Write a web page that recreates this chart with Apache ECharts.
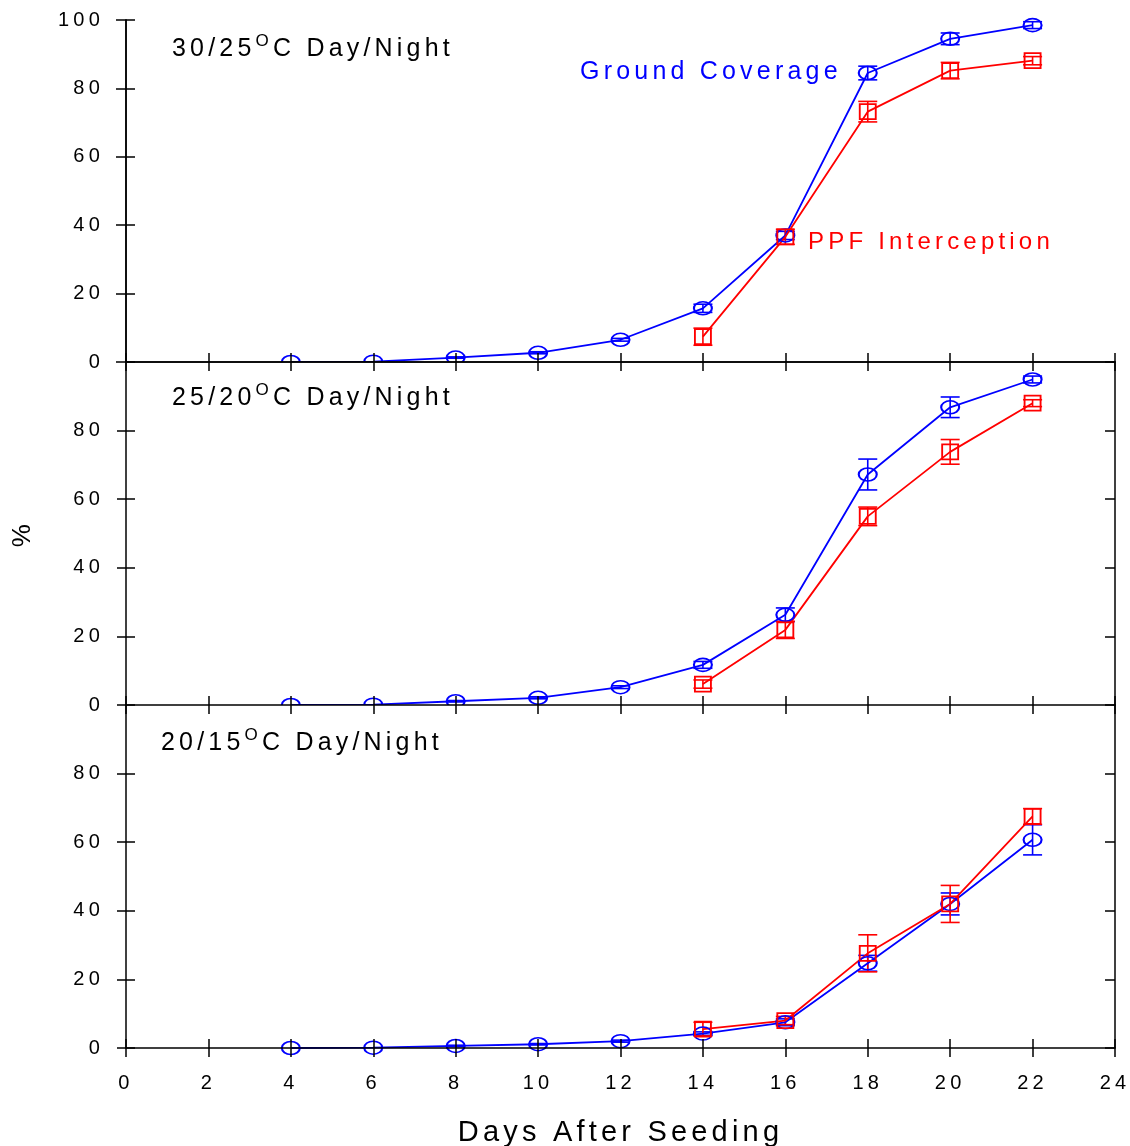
<!DOCTYPE html>
<html>
<head>
<meta charset="utf-8">
<title>Ground coverage and PPF interception</title>
<script src="https://cdn.jsdelivr.net/npm/echarts@6/dist/echarts.min.js"></script>
<style>
  html, body { margin: 0; padding: 0; background: #fff; }
  #chart { width: 1130px; height: 1146px; }
</style>
</head>
<body>
<div id="chart"></div>
<script>
// values, % vs days after seeding
const days = [4, 6, 8, 10, 12, 14, 16, 18, 20, 22];
const ppfDays = [14, 16, 18, 20, 22];

const gc3025 = [0, 0.1, 1.3, 2.7, 6.5, 15.7, 37, 84.5, 94.5, 98.5];
const gc3025Err = [0, 0, 0.2, 0.3, 0.4, 1.2, 1.2, 2, 1.7, 1];
const ppf3025 = [7.4, 36.6, 73.2, 85.2, 88.1];
const ppf3025Err = [2.5, 2.2, 3, 2.4, 1.2];

const gc2520 = [0, 0.1, 1.1, 2.1, 5.2, 11.7, 26.3, 67.2, 86.8, 94.9];
const gc2520Err = [0, 0, 0.2, 0.3, 0.4, 1, 2, 4.5, 3, 1];
const ppf2520 = [6.1, 21.9, 55, 73.8, 88];
const ppf2520Err = [1.2, 2.5, 2.7, 3.6, 1];

const gc2015 = [0, 0.1, 0.6, 1.1, 2.0, 4.2, 7.5, 24.7, 42, 60.7];
const gc2015Err = [0, 0, 0.2, 0.2, 0.3, 0.5, 1, 2.3, 3.2, 4.4];
const ppf2015 = [5.5, 8.0, 27.6, 42, 67.5];
const ppf2015Err = [2, 1.2, 5.4, 5.4, 2.3];

const panelTitles = ['30/25{sup|O}C Day/Night', '25/20{sup|O}C Day/Night', '20/15{sup|O}C Day/Night'];
const xMin = 0, xMax = 24, xStep = 2;
const yMin = 0, yMax = 100, yStep = 20;

// the original uses letter-spaced Arial, canvas can do that by itself
(function () {
    const proto = CanvasRenderingContext2D.prototype;
    ['measureText', 'fillText', 'strokeText'].forEach(function (fn) {
        const orig = proto[fn];
        proto[fn] = function () {
            if ('letterSpacing' in this) this.letterSpacing = '4.2px';
            return orig.apply(this, arguments);
        };
    });
})();

const BLUE = '#0000ff', RED = '#ff0000';
const FONT = 'Liberation Sans';

const panels = [
    { gc: gc3025, gcErr: gc3025Err, ppf: ppf3025, ppfErr: ppf3025Err, top: 20, height: 342, tLeft: 172, tTop: 31 },
    { gc: gc2520, gcErr: gc2520Err, ppf: ppf2520, ppfErr: ppf2520Err, top: 362, height: 343, tLeft: 172, tTop: 380 },
    { gc: gc2015, gcErr: gc2015Err, ppf: ppf2015, ppfErr: ppf2015Err, top: 705, height: 343, tLeft: 161, tTop: 725 }
];

const chart = echarts.init(document.getElementById('chart'));

const axisLineStyle = { color: '#000', width: 1.5 };
const labelStyle = { color: '#000', fontSize: 20, fontFamily: FONT };

function xAxisOf(i, extra) {
    return Object.assign({
        type: 'value', gridIndex: i, min: xMin, max: xMax, interval: xStep, z: 20,
        splitLine: { show: false },
        axisLine: { show: true, lineStyle: axisLineStyle },
        axisTick: { show: true, length: 9, lineStyle: axisLineStyle },
        axisLabel: { show: false }
    }, extra);
}
function yAxisOf(i, extra) {
    return Object.assign({
        type: 'value', gridIndex: i, min: yMin, max: yMax, interval: yStep, z: 20,
        splitLine: { show: false },
        axisLine: { show: true, lineStyle: axisLineStyle },
        axisTick: { show: true, length: 9, lineStyle: axisLineStyle },
        axisLabel: { show: false }
    }, extra);
}

function errBars(xi, yi, xs, ys, es, color, z) {
    const rows = [];
    xs.forEach(function (d, k) {
        if (es[k] > 0) rows.push([d, ys[k] - es[k], ys[k] + es[k]]);
    });
    return {
        type: 'custom', xAxisIndex: xi, yAxisIndex: yi, z: z, silent: true, animation: false,
        data: rows,
        renderItem: function (params, api) {
            const lo = api.coord([api.value(0), api.value(1)]);
            const hi = api.coord([api.value(0), api.value(2)]);
            const w = 9.5;
            const st = { stroke: color, lineWidth: 1.6 };
            return {
                type: 'group',
                children: [
                    { type: 'line', shape: { x1: lo[0], y1: lo[1], x2: hi[0], y2: hi[1] }, style: st },
                    { type: 'line', shape: { x1: lo[0] - w, y1: lo[1], x2: lo[0] + w, y2: lo[1] }, style: st },
                    { type: 'line', shape: { x1: hi[0] - w, y1: hi[1], x2: hi[0] + w, y2: hi[1] }, style: st }
                ]
            };
        }
    };
}

function lineOf(xi, yi, xs, ys, color, symbol, size, z) {
    return {
        type: 'line', xAxisIndex: xi, yAxisIndex: yi, z: z, animation: false,
        data: xs.map(function (d, k) { return [d, ys[k]]; }),
        symbol: symbol, symbolSize: size, showSymbol: true, showAllSymbol: true,
        itemStyle: { color: 'rgba(0,0,0,0)', borderColor: color, borderWidth: 1.8 },
        lineStyle: { color: color, width: 1.8 },
        emphasis: { disabled: true }
    };
}

const grids = [], xAxes = [], yAxes = [], series = [];
const titles = [];

panels.forEach(function (p, i) {
    // each panel has a white background laid over the panel above it
    grids.push({
        left: 126, right: 15, top: p.top, height: p.height, z: 1 + 2 * i,
        outerBoundsMode: 'none', containLabel: false,
        show: true, backgroundColor: '#fff', borderWidth: 0
    });

    const xi = xAxes.length;
    xAxes.push(xAxisOf(i, {
        position: 'bottom',
        axisLabel: i === 2 ? Object.assign({ show: true, margin: 23 }, labelStyle) : { show: false },
        name: i === 2 ? 'Days After Seeding' : '',
        nameLocation: 'middle', nameGap: 68,
        nameTextStyle: { color: '#000', fontSize: 29, fontFamily: FONT }
    }));
    xAxes.push(xAxisOf(i, { position: 'bottom', axisLine: { show: false }, axisTick: { show: true, inside: true, length: 9, lineStyle: axisLineStyle } }));
    if (i === 0) {
        xAxes.push(xAxisOf(i, { position: 'top', axisTick: { show: true, inside: true, length: 8, lineStyle: axisLineStyle } }));
    }

    const yi = yAxes.length;
    yAxes.push(yAxisOf(i, {
        position: 'left',
        axisLabel: Object.assign({ show: true, margin: 22, showMaxLabel: i === 0 }, labelStyle),
        name: i === 1 ? '%' : '',
        nameLocation: 'middle', nameGap: 88,
        nameTextStyle: { color: '#000', fontSize: 26, fontFamily: FONT }
    }));
    yAxes.push(yAxisOf(i, { position: 'left', axisLine: { show: false }, axisTick: { show: true, inside: true, length: 9, lineStyle: axisLineStyle } }));
    yAxes.push(yAxisOf(i, { position: 'right', axisTick: { show: true, inside: true, length: 10, lineStyle: axisLineStyle } }));

    const z = 2 + 2 * i;
    series.push(lineOf(xi, yi, days, p.gc, BLUE, 'circle', [18, 13], z));
    series.push(errBars(xi, yi, days, p.gc, p.gcErr, BLUE, z));
    series.push(lineOf(xi, yi, ppfDays, p.ppf, RED, 'rect', [16, 15], z));
    series.push(errBars(xi, yi, ppfDays, p.ppf, p.ppfErr, RED, z));

    titles.push({
        text: panelTitles[i], left: p.tLeft, top: p.tTop, padding: 0,
        textStyle: {
            color: '#000', fontSize: 25, fontWeight: 'normal', fontFamily: FONT, lineHeight: 36,
            rich: { sup: { fontSize: 17, lineHeight: 14, verticalAlign: 'top', color: '#000', fontFamily: FONT } }
        }
    });
});

titles.push({
    text: 'Ground Coverage', left: 580, top: 54, padding: 0,
    textStyle: { color: BLUE, fontSize: 25, fontWeight: 'normal', fontFamily: FONT, lineHeight: 36 }
});
titles.push({
    text: 'PPF Interception', left: 808, top: 224, padding: 0,
    textStyle: { color: RED, fontSize: 24, fontWeight: 'normal', fontFamily: FONT, lineHeight: 36 }
});

chart.setOption({
    backgroundColor: '#fff',
    animation: false,
    title: titles,
    grid: grids,
    xAxis: xAxes,
    yAxis: yAxes,
    series: series
});
</script>
</body>
</html>
